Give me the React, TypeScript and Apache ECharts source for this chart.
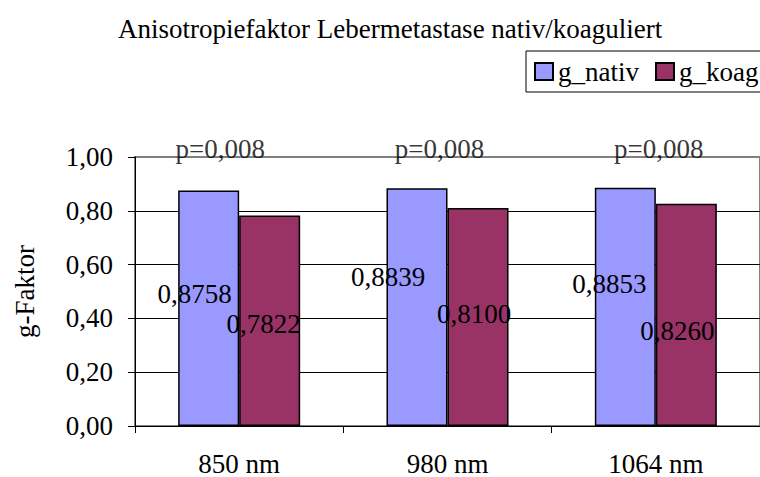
import React, { useEffect, useRef } from "react";
import * as echarts from "echarts";

const titleText = "Anisotropiefaktor Lebermetastase nativ/koaguliert";
const categories = ["850 nm", "980 nm", "1064 nm"];
const seriesNames = ["g_nativ", "g_koag"];
const gNativ = [0.8758, 0.8839, 0.8853];
const gKoag = [0.7822, 0.81, 0.826];
const pLabels = ["p=0,008", "p=0,008", "p=0,008"];
const yMin = 0;
const yMax = 1;
const yInterval = 0.2;
const yAxisName = "g-Faktor";

// label placement (style only)
const nativLabelOffsets = [[-14, -14], [-29, -30], [-16, -23]];
const koagLabelOffsets = [[-6, 3], [-4, -3], [-9, 16]];
const pLabelOffsets = [[-19, -8], [-8, -8], [3, -8]];

const FONT = "Liberation Serif, Times New Roman, serif";
const FS = 27;

const fmt2 = (v: number) => v.toFixed(2).replace(".", ",");
const fmt4 = (v: number) => v.toFixed(4).replace(".", ",");

export default function App() {
  const ref = useRef<HTMLDivElement>(null);
  useEffect(() => {
    if (!ref.current) return;
    const chart = echarts.init(ref.current, undefined, { renderer: "svg" });
    const labelBase = {
      show: true,
      position: "inside" as const,
      color: "#000",
      fontSize: FS,
      fontFamily: FONT,
      textBorderWidth: 0,
    };
    chart.setOption({
      animation: false,
      backgroundColor: "#fff",
      title: {
        text: titleText,
        left: 113,
        top: 10,
        textStyle: { fontFamily: FONT, fontSize: FS, fontWeight: "normal", color: "#000" },
      },
      legend: {
        data: seriesNames,
        orient: "horizontal",
        left: 526,
        top: 51,
        width: 300,
        padding: [7, 8, 7, 8],
        borderColor: "#000",
        borderWidth: 1,
        itemWidth: 18,
        itemHeight: 17,
        itemGap: 16,
        icon: "rect",
        itemStyle: { borderColor: "#000", borderWidth: 2 },
        textStyle: { fontFamily: FONT, fontSize: FS, color: "#000" },
      },
      grid: {
        left: 135,
        top: 157,
        width: 634,
        height: 269,
        show: true,
        borderColor: "#808080",
        borderWidth: 2,
        backgroundColor: "transparent",
      },
      xAxis: {
        type: "category",
        data: categories,
        axisLine: { lineStyle: { color: "#000", width: 1 } },
        axisTick: { show: true, length: 7, lineStyle: { color: "#000" } },
        axisLabel: { fontFamily: FONT, fontSize: FS, color: "#000", margin: 24 },
      },
      yAxis: {
        type: "value",
        min: yMin,
        max: yMax,
        interval: yInterval,
        name: yAxisName,
        nameLocation: "middle",
        nameRotate: 90,
        nameGap: 97,
        nameTextStyle: { fontFamily: FONT, fontSize: FS, color: "#000" },
        axisLine: { show: true, lineStyle: { color: "#000", width: 1 } },
        axisTick: { show: true, length: 7, lineStyle: { color: "#000" } },
        axisLabel: { fontFamily: FONT, fontSize: FS, color: "#000", margin: 22, formatter: (v: number) => fmt2(v) },
        splitLine: {
          show: true,
          lineStyle: { color: ["#000", "#000", "#000", "#000", "#000", "#808080"], width: 1 },
        },
      },
      series: [
        {
          name: seriesNames[0],
          type: "bar",
          barWidth: 61,
          barGap: "0%",
          itemStyle: { color: "#9999FF", borderColor: "#000", borderWidth: 1.5 },
          label: { ...labelBase, formatter: (p: any) => fmt4(p.value) },
          data: gNativ.map((v, i) => ({ value: v, label: { offset: nativLabelOffsets[i] } })),
        },
        {
          name: seriesNames[1],
          type: "bar",
          barWidth: 61,
          barGap: "0%",
          itemStyle: { color: "#993366", borderColor: "#000", borderWidth: 1.5 },
          label: { ...labelBase, formatter: (p: any) => fmt4(p.value) },
          data: gKoag.map((v, i) => ({ value: v, label: { offset: koagLabelOffsets[i] } })),
        },
        {
          name: "p",
          type: "scatter",
          symbolSize: 0,
          silent: true,
          z: 5,
          label: { ...labelBase, position: "inside" },
          data: categories.map((c, i) => ({
            value: [c, yMax],
            label: { formatter: pLabels[i], offset: pLabelOffsets[i] },
          })),
        },
      ],
    });
    return () => chart.dispose();
  }, []);
  return (
    <div
      ref={ref}
      style={{ position: "absolute", left: 0, top: 0, width: 760, height: 477 }}
    />
  );
}
